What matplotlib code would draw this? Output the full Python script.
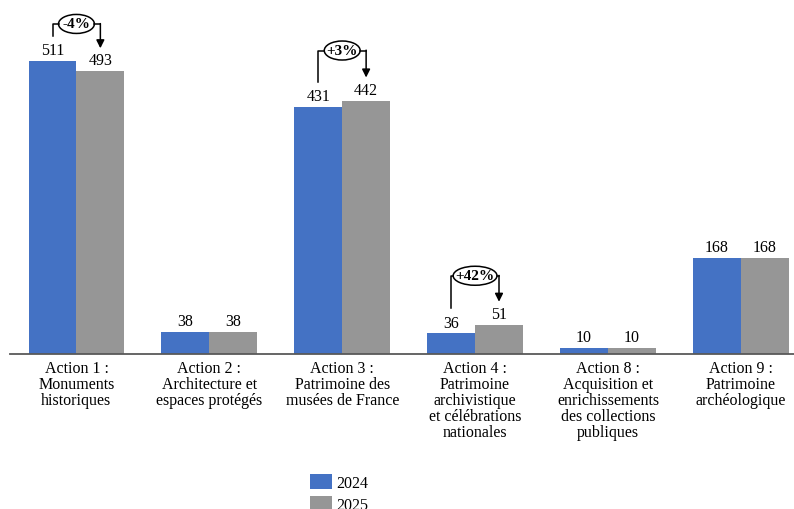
import numpy as np
import matplotlib.pyplot as plt
from matplotlib.patches import Ellipse

plt.rcParams['font.family'] = ['Liberation Serif', 'DejaVu Serif']

# crédits par action (M€)
actions = ["Action 1 :\nMonuments\nhistoriques",
           "Action 2 :\nArchitecture et\nespaces protégés",
           "Action 3 :\nPatrimoine des\nmusées de France",
           "Action 4 :\nPatrimoine\narchivistique\net célébrations\nnationales",
           "Action 8 :\nAcquisition et\nenrichissements\ndes collections\npubliques",
           "Action 9 :\nPatrimoine\narchéologique"]
v2024 = [511, 38, 431, 36, 10, 168]
v2025 = [493, 38, 442, 51, 10, 168]
# groupes annotés avec l'évolution
annotated = [0, 2, 3]

blue = '#4472C4'
grey = '#969696'

fig = plt.figure(figsize=(7.94, 5.1), dpi=100)
ax = fig.add_axes([10/794, 155/510, 784/794, 355/510])

x = np.arange(len(actions))
w = 0.36
b1 = ax.bar(x - w/2, v2024, w, color=blue, label='2024')
b2 = ax.bar(x + w/2, v2025, w, color=grey, label='2025')

for xi, a, b in zip(x, v2024, v2025):
    ax.annotate(str(a), (xi - w/2, a), xytext=(0, 2), textcoords='offset points',
                ha='center', va='bottom', fontsize=11.5)
    ax.annotate(str(b), (xi + w/2, b), xytext=(0, 2), textcoords='offset points',
                ha='center', va='bottom', fontsize=11.5)

ax.set_xlim(-0.5, 5.4)
ax.set_ylim(0, 619)
for s in ['left', 'right', 'top']:
    ax.spines[s].set_visible(False)
ax.spines['bottom'].set_color('#595959')
ax.spines['bottom'].set_linewidth(1.3)
ax.set_yticks([])
ax.set_xticks(x)
ax.set_xticklabels(actions, fontsize=11.5, linespacing=1.0)
ax.tick_params(axis='x', length=0, pad=4)

# bulles d'évolution (décalages en pixels)
px = 619 / 355.0
for i, off in zip(annotated, [37, 50, 49]):
    a, b = v2024[i], v2025[i]
    pct = (b - a) / a * 100
    top = max(a, b) + off * px
    xl, xr = i - w/2, i + w/2
    ew = 0.27 + 0.06 * (len('%+.0f%%' % pct) - 3)
    eh = 19 * px
    ax.plot([xl, xl, i - ew/2], [a + 25*px, top, top], color='black', lw=1.1)
    ax.plot([i + ew/2, xr], [top, top], color='black', lw=1.1)
    ax.annotate('', xy=(xr, b + 23*px), xytext=(xr, top + 0.6),
                arrowprops=dict(arrowstyle='-|>', color='black', lw=1.1,
                                mutation_scale=12, shrinkA=0, shrinkB=0))
    ax.add_patch(Ellipse((i, top), ew, eh, facecolor='white', edgecolor='black', lw=1.1))
    ax.text(i, top, '%+.0f%%' % pct, ha='center', va='center', fontsize=11,
            fontweight='bold')

fig.legend(handles=[b1, b2], loc='upper left', bbox_to_anchor=(310/794, 1 - 475/510),
           frameon=False, fontsize=11.5, handlelength=1.35, handleheight=1.05,
           labelspacing=0.3, handletextpad=0.3, borderpad=0, borderaxespad=0)

fig.savefig('out.png', dpi=100)
